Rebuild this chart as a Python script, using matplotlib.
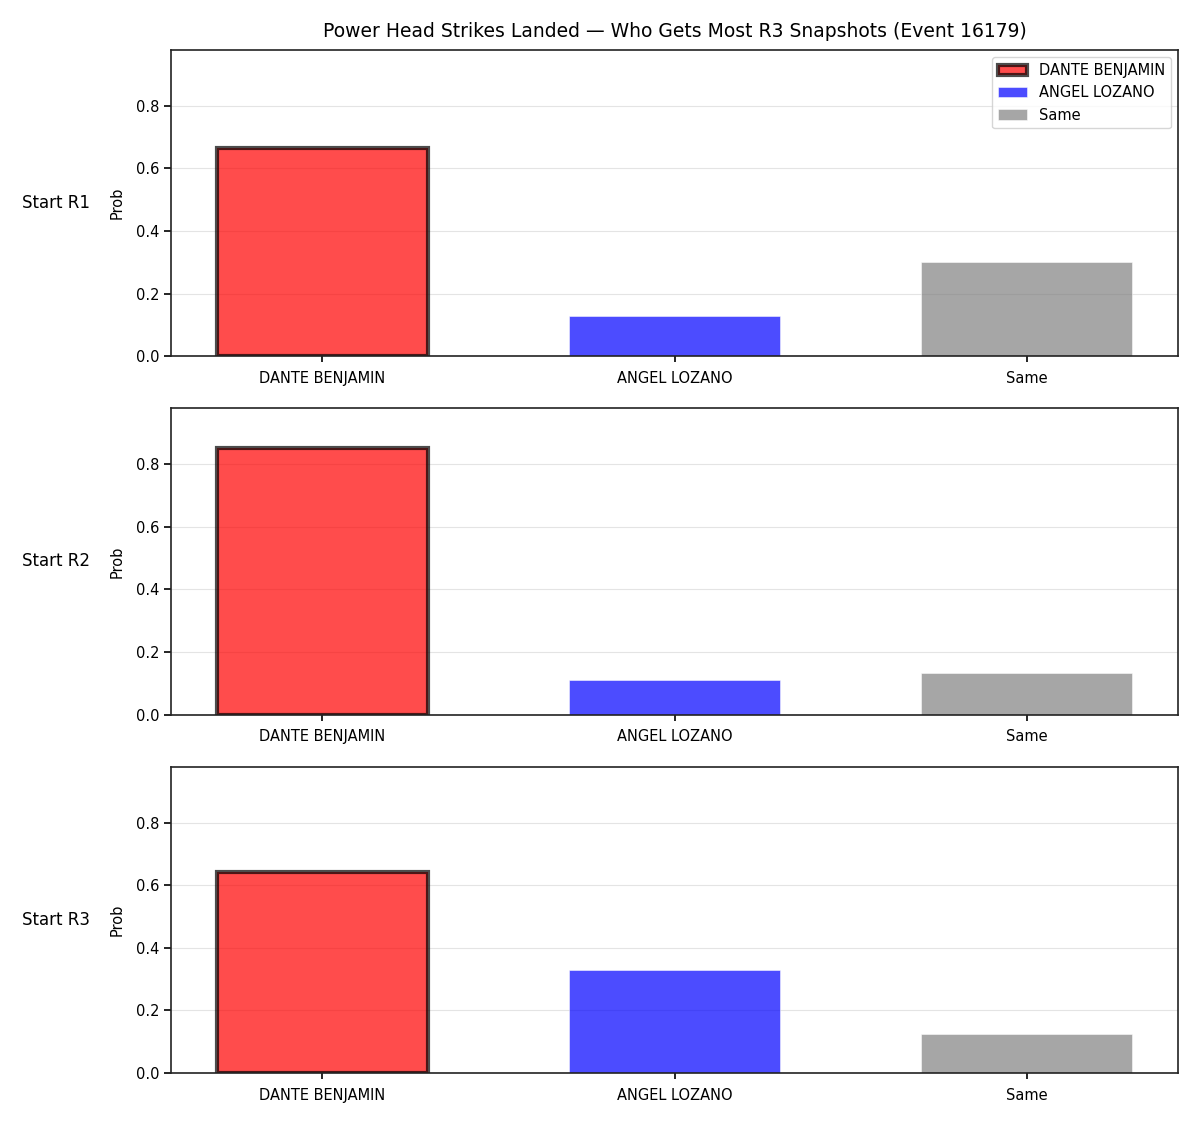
import matplotlib
matplotlib.use("Agg")
import matplotlib.pyplot as plt

# outcome categories and probabilities per starting round
categories = ["DANTE BENJAMIN", "ANGEL LOZANO", "Same"]
rounds = ["Start R1", "Start R2", "Start R3"]
prob_r1 = [0.664, 0.128, 0.300]
prob_r2 = [0.851, 0.111, 0.133]
prob_r3 = [0.642, 0.329, 0.125]
colors = ["red", "blue", "gray"]

all_probs = [prob_r1, prob_r2, prob_r3]
ymax = max(max(p) for p in all_probs) * 1.15

fig, axes = plt.subplots(3, 1, figsize=(12, 11.25), dpi=100)

for i, (ax, label, probs) in enumerate(zip(axes, rounds, all_probs)):
    x = range(len(categories))
    best = probs.index(max(probs[:2]))
    for j in x:
        if j == best:
            ax.bar(j, probs[j], width=0.6, color=colors[j], alpha=0.7,
                   edgecolor="black", linewidth=3, label=categories[j])
        else:
            ax.bar(j, probs[j], width=0.6, color=colors[j], alpha=0.7,
                   edgecolor="white", linewidth=0.5, label=categories[j])
    ax.set_xticks(list(x))
    ax.set_xticklabels(categories, fontsize=10.5)
    ax.tick_params(axis="x", length=4.5, width=1.2, pad=6)
    ax.tick_params(axis="y", labelsize=10.5, length=5, width=1.2)
    ax.set_ylim(0, ymax)
    ax.set_ylabel("Prob", fontsize=10.5, labelpad=8)
    ax.grid(axis="y", color="lightgray", alpha=0.6, linewidth=0.8)
    ax.set_axisbelow(True)
    ax.text(-0.08, 0.5, label, transform=ax.transAxes, ha="right",
            va="center", fontsize=12)
    for s in ax.spines.values():
        s.set_linewidth(1.2)
        s.set_color("#222222")
    if i == 0:
        ax.set_title("Power Head Strikes Landed \u2014 Who Gets Most R3 Snapshots (Event 16179)",
                     fontsize=13.5, pad=9)
        ax.legend(loc="upper right", fontsize=10.5)

fig.subplots_adjust(left=0.1425, right=0.9817, top=0.9556, bottom=0.0462, hspace=0.17)
fig.savefig("out.png")
